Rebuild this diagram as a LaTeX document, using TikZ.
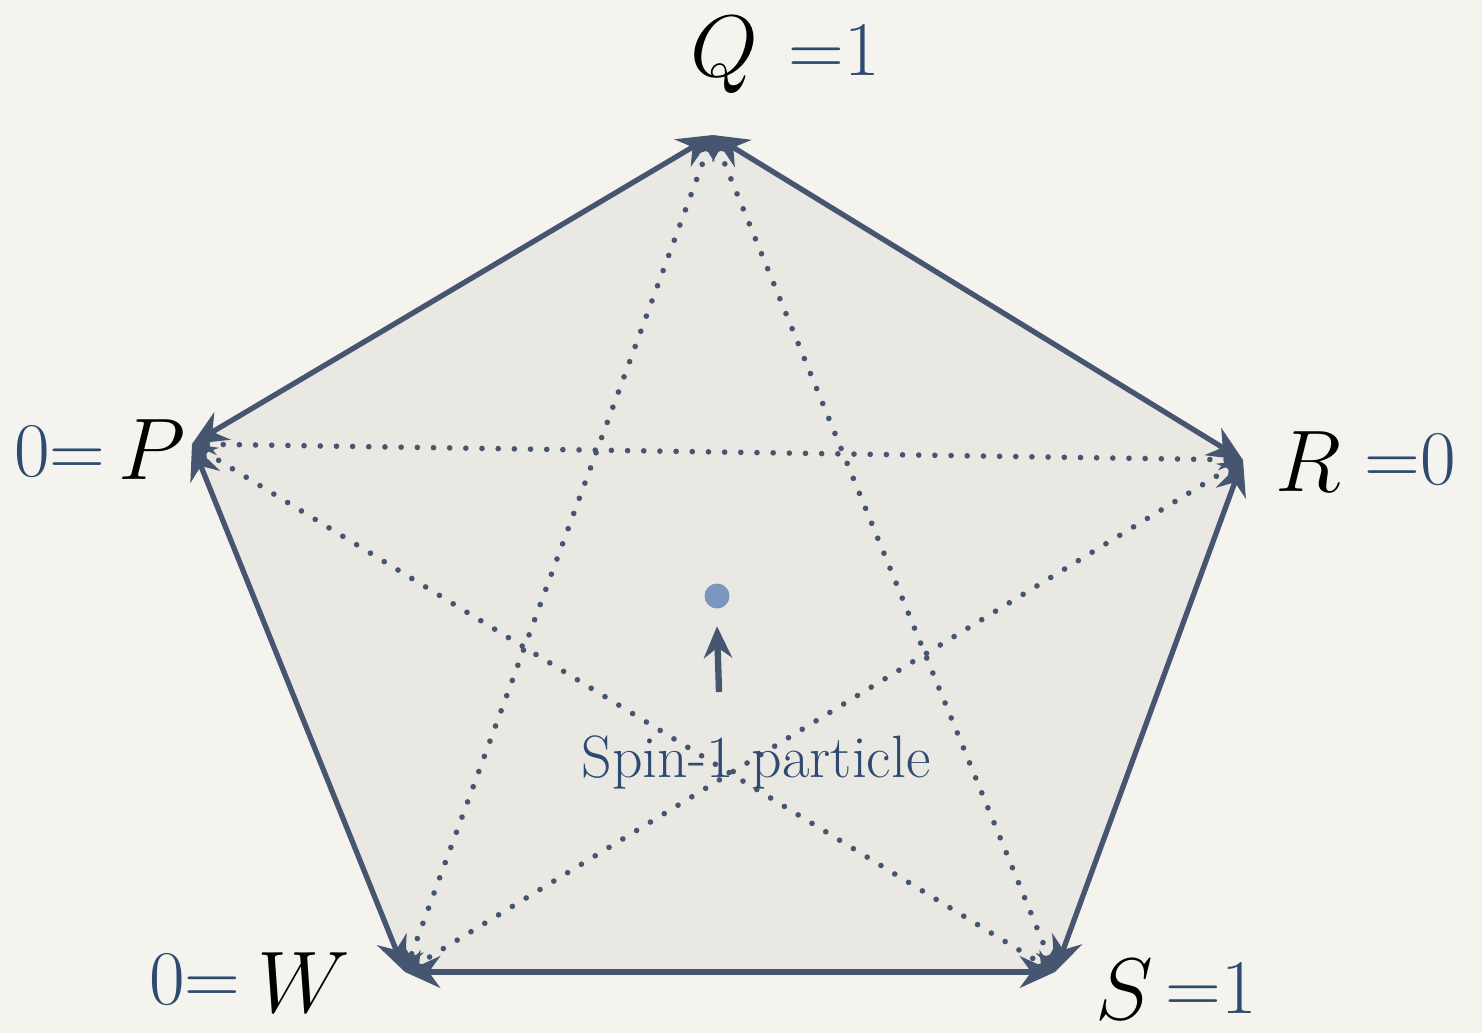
\documentclass[tikz,border=0pt]{standalone}
\usepackage{amsmath,amssymb}
\usepackage{xcolor}
\definecolor{spinPaper} {RGB}{245, 243, 238}
\definecolor{spinFace}  {RGB}{234, 232, 226}
\definecolor{spinSlate} {RGB}{ 71,  86, 112}
\definecolor{spinNavy}  {RGB}{ 46,  74, 112}
\definecolor{spinDot}   {RGB}{122, 151, 189}
\usepackage{tikz}
\usetikzlibrary{
  arrows.meta,
  positioning,
  calc,
}

\begin{document}
\begin{tikzpicture}[
  edge/.style={line width=1.5pt, draw=spinSlate,
    {Stealth[length=10pt,width=9pt]}-{Stealth[length=10pt,width=9pt]}},
  chord/.style={line width=1.6pt, draw=spinSlate, line cap=round,
    dash pattern=on 0pt off 4.6pt,
    {Stealth[length=7pt,width=6pt]}-{Stealth[length=7pt,width=6pt]}},
  letter/.style={font=\fontsize{27}{32}\selectfont, text=black, inner sep=0pt},
  value/.style={font=\fontsize{22}{26}\selectfont, text=spinNavy, inner sep=0pt},
]
  % Scale: 1cm = 100px
  \def\s{0.01}     % px to cm
  \def\H{1033}     % image height (y inverted: 0 at top)

  % Paper
  \useasboundingbox (0,0) rectangle ({1482*\s},{\H*\s});
  \fill[spinPaper] (0,0) rectangle ({1482*\s},{\H*\s});

  % Vertices
  \coordinate (Q) at ({713*\s},{(\H-135)*\s});
  \coordinate (R) at ({1243*\s},{(\H-460)*\s});
  \coordinate (S) at ({1055*\s},{(\H-972)*\s});
  \coordinate (W) at ({405*\s},{(\H-972)*\s});
  \coordinate (P) at ({192*\s},{(\H-444)*\s});

  % Face
  \fill[spinFace] (Q) -- (R) -- (S) -- (W) -- (P) -- cycle;

  % Diagonals (dotted)
  \draw[chord] (P) -- (R);
  \draw[chord] (Q) -- (W);
  \draw[chord] (Q) -- (S);
  \draw[chord] (P) -- (S);
  \draw[chord] (R) -- (W);

  % Sides
  \draw[edge] (P) -- (Q);
  \draw[edge] (Q) -- (R);
  \draw[edge] (R) -- (S);
  \draw[edge] (S) -- (W);
  \draw[edge] (W) -- (P);

  % Particle
  \node[circle, fill=spinDot, minimum size={25*\s cm}, inner sep=0pt] (dot)
    at ({717*\s},{(\H-596)*\s}) {};
  \coordinate (tail) at ({719*\s},{(\H-692)*\s});
  \draw[line width=1.8pt, spinSlate, -{Stealth[length=9pt,width=8pt]}]
    (tail) -- ($(dot.south)+(0,-0.17)$);
  \node[font=\fontsize{17}{20}\selectfont, text=spinNavy, anchor=base] (lbl)
    at ({756*\s},{(\H-777)*\s}) {Spin-1 particle};

  % Vertex labels
  \node[letter] (lQ) at ({724*\s},{(\H-55)*\s}) {$Q$};
  \node[value, anchor=west] (vQ) at ({788*\s},{(\H-50)*\s}) {=1};

  \node[letter] (lP) at ({152*\s},{(\H-450)*\s}) {$P$};
  \node[value, anchor=east] (vP) at ({106*\s},{(\H-452)*\s}) {0=};

  \node[letter] (lR) at ({1308*\s},{(\H-462)*\s}) {$R$};
  \node[value, anchor=west] (vR) at ({1364*\s},{(\H-460)*\s}) {=0};

  \node[letter] (lW) at ({304*\s},{(\H-983)*\s}) {$W$};
  \node[value, anchor=east] (vW) at ({241*\s},{(\H-980)*\s}) {0=};

  \node[letter] (lS) at ({1124*\s},{(\H-990)*\s}) {$S$};
  \node[value, anchor=west] (vS) at ({1165*\s},{(\H-988)*\s}) {=1};

\end{tikzpicture}
\end{document}
